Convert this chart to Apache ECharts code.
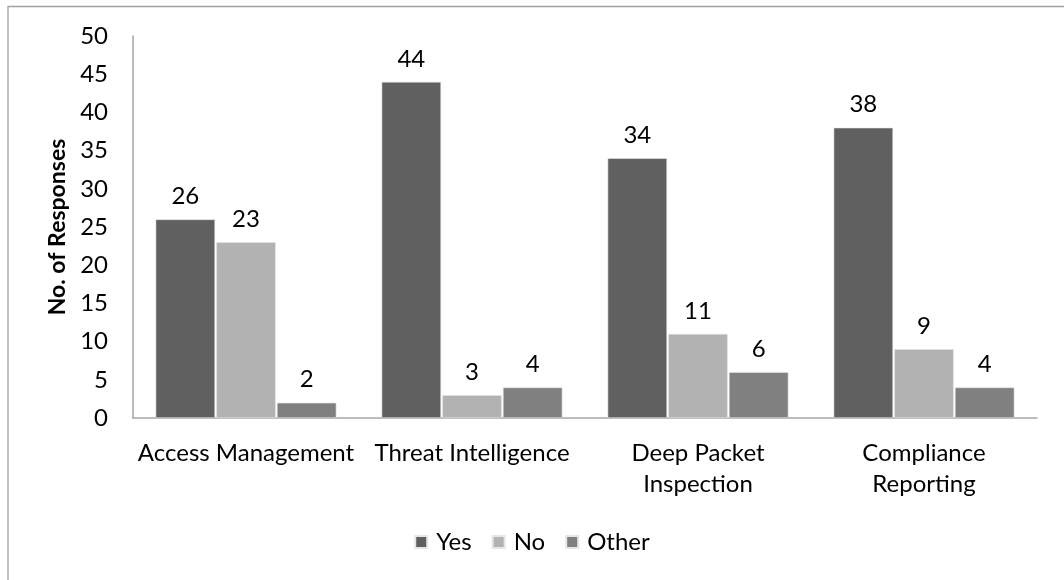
<!DOCTYPE html>
<html>
<head>
<meta charset="utf-8">
<script src="https://cdn.jsdelivr.net/npm/echarts@6/dist/echarts.min.js"></script>
<style>
  html, body { margin: 0; padding: 0; background: #fff; }
  #chart { width: 1064px; height: 580px; }
</style>
</head>
<body>
<div id="chart"></div>
<script>
// Survey responses per security capability
const categories = ['Access Management', 'Threat Intelligence', 'Deep Packet\nInspection', 'Compliance\nReporting'];
const yesValues = [26, 44, 34, 38];
const noValues = [23, 3, 11, 9];
const otherValues = [2, 4, 6, 4];
const seriesNames = ['Yes', 'No', 'Other'];
const seriesColors = ['#606060', '#b2b2b2', '#808080'];

const FONT = 'Lato, "Open Sans", sans-serif';
const FS = 24;

const chart = echarts.init(document.getElementById('chart'), null, { renderer: 'canvas' });

function barSeries(name, data, color) {
  return {
    name: name,
    type: 'bar',
    data: data,
    barGap: '2%',
    barCategoryGap: '20%',
    itemStyle: { color: color, borderColor: '#e6e6e6', borderWidth: 0.6 },
    label: {
      show: true,
      position: 'top',
      distance: 11,
      color: '#000',
      fontFamily: FONT,
      fontSize: FS
    }
  };
}

chart.setOption({
  backgroundColor: '#fff',
  animation: false,
  graphic: [{
    type: 'rect',
    shape: { x: 8, y: 6.5, width: 1200, height: 700 },
    style: { fill: 'none', stroke: '#a0a0a0', lineWidth: 1.3 },
    silent: true
  }],
  grid: { left: 133, right: 27, top: 36, bottom: 162 },
  legend: {
    data: seriesNames,
    bottom: 21,
    left: 'center',
    itemWidth: 12,
    itemHeight: 12,
    itemGap: 20,
    icon: 'rect',
    textStyle: { fontFamily: FONT, fontSize: FS, color: '#000', padding: [0, 0, 0, 4] }
  },
  xAxis: {
    type: 'category',
    data: categories,
    axisLine: { lineStyle: { color: '#a6a6a6', width: 1.5 } },
    axisTick: { show: false },
    axisLabel: {
      interval: 0,
      margin: 20,
      color: '#000',
      fontFamily: FONT,
      fontSize: FS,
      lineHeight: 31
    }
  },
  yAxis: {
    type: 'value',
    min: 0,
    max: 50,
    interval: 5,
    name: 'No. of Responses',
    nameLocation: 'middle',
    nameGap: 61,
    nameTextStyle: { fontFamily: FONT, fontSize: 23, fontWeight: 'bold', color: '#000' },
    axisLine: { show: true, lineStyle: { color: '#a6a6a6', width: 1.5 } },
    axisTick: { show: false },
    splitLine: { show: false },
    axisLabel: { margin: 25, color: '#000', fontFamily: FONT, fontSize: FS }
  },
  series: [
    barSeries(seriesNames[0], yesValues, seriesColors[0]),
    barSeries(seriesNames[1], noValues, seriesColors[1]),
    barSeries(seriesNames[2], otherValues, seriesColors[2])
  ]
});
</script>
</body>
</html>
